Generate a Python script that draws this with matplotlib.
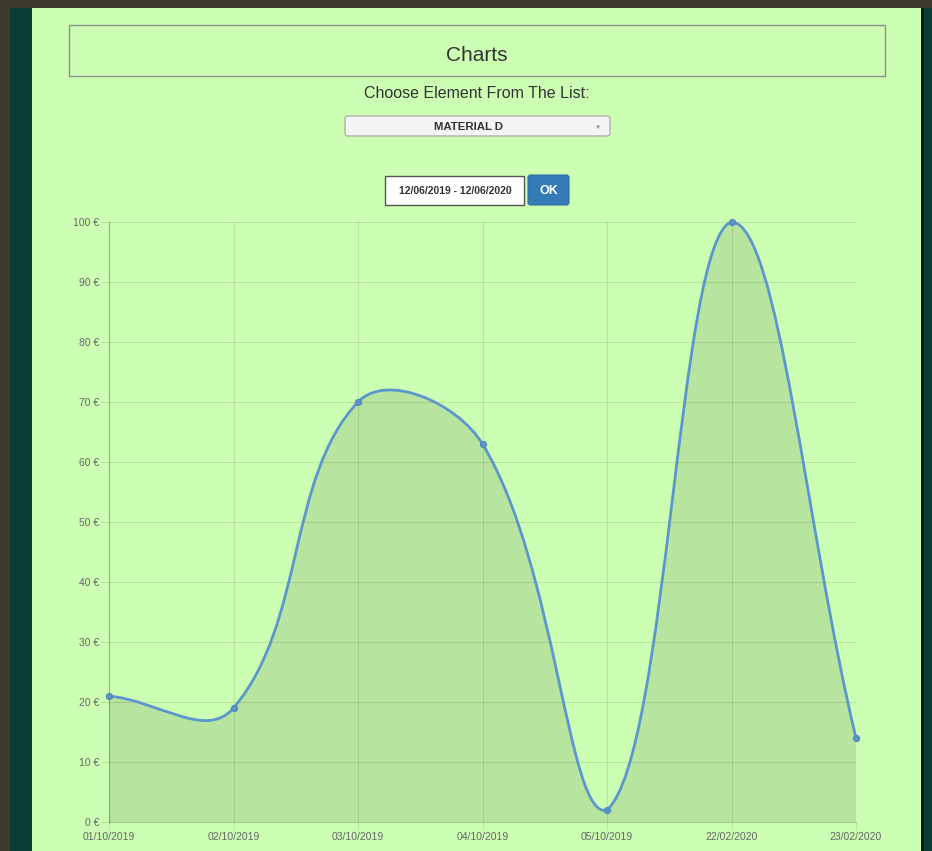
import numpy as np
import matplotlib
matplotlib.use('Agg')
import matplotlib.pyplot as plt
from matplotlib.path import Path
from matplotlib.patches import PathPatch, Rectangle, FancyBboxPatch

# chart data
dates = ["01/10/2019", "02/10/2019", "03/10/2019", "04/10/2019",
         "05/10/2019", "22/02/2020", "23/02/2020"]
prices = [21, 19, 70, 63, 2, 100, 14]
y_ticks = [0, 10, 20, 30, 40, 50, 60, 70, 80, 90, 100]

selected_item = "MATERIAL D"
date_range = "12/06/2019 - 12/06/2020"

W, H = 932, 851
plt.rcParams['font.family'] = ['Liberation Sans', 'DejaVu Sans']

fig = plt.figure(figsize=(W / 100, H / 100), dpi=100)
fig.patch.set_facecolor('#3d392c')

PANEL = '#ccffb3'
LINE = '#5b96cd'


def box(x0, y0, x1, y1, **kw):
    # pixel box, origin top-left
    r = Rectangle((x0 / W, 1 - y1 / H), (x1 - x0) / W, (y1 - y0) / H,
                  transform=fig.transFigure, zorder=-10, **kw)
    fig.patches.append(r)
    return r


def txt(x, y, s, **kw):
    fig.text(x / W, 1 - y / H, s, ha='center', va='center', **kw)


# page background
box(10, 8, 932, 851, facecolor='#0b3b35', edgecolor='none')
box(921, 8, 924, 851, facecolor='#061a18', edgecolor='none')
box(32, 8, 921, 851, facecolor=PANEL, edgecolor='none')

# header box
box(69, 25, 885, 76, facecolor='none', edgecolor='#8a8f88', linewidth=1.0)
txt(477, 55.5, "Charts", fontsize=15, color='#333333')
txt(477, 94, "Choose Element From The List:", fontsize=11.5, color='#333333')

# dropdown
dd = FancyBboxPatch((345 / W, 1 - 136 / H), 265 / W, 20 / H,
                    boxstyle="round,pad=0,rounding_size=0.003",
                    transform=fig.transFigure, facecolor='#f4f4f4',
                    edgecolor='#a8a8a8', linewidth=0.9, zorder=-5)
fig.patches.append(dd)
txt(469, 127.5, selected_item, fontsize=8.2, fontweight='bold', color='#333333')
txt(598, 127, "\u25bc", fontsize=4.5, color='#888888')

# date input + OK button
box(385, 176, 524, 205, facecolor='white', edgecolor='#555555', linewidth=1.0)
txt(455, 191, date_range, fontsize=7.5, fontweight='bold', color='#333333')
ok = FancyBboxPatch((528 / W, 1 - 205 / H), 41 / W, 30 / H,
                    boxstyle="round,pad=0,rounding_size=0.003",
                    transform=fig.transFigure, facecolor='#337ab7',
                    edgecolor='#2e6da4', linewidth=0.8, zorder=-5)
fig.patches.append(ok)
txt(548.5, 190.5, "OK", fontsize=9, fontweight='bold', color='white')

# chart area
ax_l, ax_r, ax_t, ax_b = 109, 856, 222, 822
ax = fig.add_axes([ax_l / W, 1 - ax_b / H, (ax_r - ax_l) / W, (ax_b - ax_t) / H])
ax.set_facecolor('none')

xs = np.arange(len(prices), dtype=float)
ys = np.array(prices, dtype=float)

# chart.js style spline (tension 0.4), computed in pixel space
sx = (ax_r - ax_l) / (len(xs) - 1)
sy = (ax_b - ax_t) / 100.0
px, py = xs * sx, ys * sy
n = len(px)
cp_prev, cp_next = [], []
for i in range(n):
    a, b = max(i - 1, 0), min(i + 1, n - 1)
    d01 = np.hypot(px[i] - px[a], py[i] - py[a])
    d12 = np.hypot(px[b] - px[i], py[b] - py[i])
    tot = d01 + d12
    s01 = d01 / tot if tot else 0
    s12 = d12 / tot if tot else 0
    fa, fb = 0.4 * s01, 0.4 * s12
    p0 = [px[i] - fa * (px[b] - px[a]), py[i] - fa * (py[b] - py[a])]
    p1 = [px[i] + fb * (px[b] - px[a]), py[i] + fb * (py[b] - py[a])]
    for p in (p0, p1):
        p[0] = min(max(p[0], 0), px[-1])
        p[1] = min(max(p[1], 0), 100 * sy)
    cp_prev.append((p0[0] / sx, p0[1] / sy))
    cp_next.append((p1[0] / sx, p1[1] / sy))

verts = [(xs[0], ys[0])]
codes = [Path.MOVETO]
for i in range(1, n):
    verts += [cp_next[i - 1], cp_prev[i], (xs[i], ys[i])]
    codes += [Path.CURVE4] * 3
line_path = Path(verts, codes)
fill_path = Path(verts + [(xs[-1], 0), (xs[0], 0), (xs[0], ys[0])],
                 codes + [Path.LINETO, Path.LINETO, Path.CLOSEPOLY])

ax.add_patch(PathPatch(fill_path, facecolor=(0, 0, 0, 0.1), edgecolor='none', zorder=2))
ax.add_patch(PathPatch(line_path, facecolor='none', edgecolor=LINE,
                       linewidth=2.0, zorder=3, clip_on=False))
ax.plot(xs, ys, 'o', ms=4.2, color=LINE, mec='#5089bf', zorder=4, clip_on=False)

ax.set_xlim(0, len(xs) - 1)
ax.set_ylim(0, 100)
ax.set_xticks(xs)
ax.set_xticklabels(dates)
ax.set_yticks(y_ticks)
ax.set_yticklabels([f"{v} \u20ac" for v in y_ticks])

ax.set_axisbelow(True)
ax.tick_params(axis='both', length=6, width=0.8, color=(0, 0, 0, 0.1),
               labelsize=7.5, labelcolor='#666666', pad=1,
               grid_color='black', grid_alpha=0.1, grid_linewidth=0.8)
ax.grid(True)
for s in ['top', 'right']:
    ax.spines[s].set_visible(False)
for s in ['left', 'bottom']:
    ax.spines[s].set_color((0, 0, 0, 0.2))
    ax.spines[s].set_linewidth(0.9)

fig.savefig('out.png', dpi=100, facecolor=fig.get_facecolor())
